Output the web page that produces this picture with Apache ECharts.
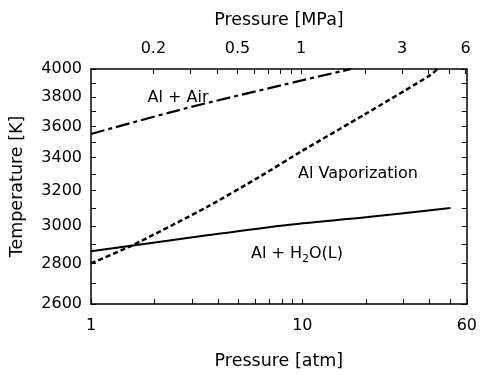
<!DOCTYPE html>
<html><head><meta charset="utf-8">
<script src="https://cdn.jsdelivr.net/npm/echarts@6/dist/echarts.min.js"></script>
<style>html,body{margin:0;padding:0;background:#fff}#c{width:480px;height:375px}</style>
</head><body><div id="c"></div>
<script>
// Data (pressure in atm, temperature in K)
const airP = [1, 2.76, 8.14, 17.0];
const airT = [3551, 3719, 3886, 4000];
const vapP = [1, 1.575, 3.54, 6.22, 9.93, 19.7, 40.5, 43.5];
const vapT = [2801, 2896, 3106, 3280, 3441, 3680, 3957, 4000];
const h2oP = [1, 3.54, 8.14, 20.4, 50.2];
const h2oT = [2864, 2949, 3003, 3049, 3100];

// Tick values
const atmTicks = [1,2,3,4,5,6,7,8,9,10,20,30,40,50,60];
const atmLabels = [1,10,60];
const mpaTicks = [0.2,0.3,0.4,0.5,0.6,0.7,0.8,0.9,1,2,3,4,5,6];
const mpaLabels = [0.2,0.5,1,3,6];
const tempTicks = [2600,2700,2800,2900,3000,3100,3200,3300,3400,3500,3600,3700,3800,3900,4000];
const tempLabels = [2600,2800,3000,3200,3400,3600,3800,4000];
const pRange = [1, 60];
const tRange = [2600, 4000];
const ATM_TO_MPA = 0.101325;

const L = Math.log10;
const fmt = v => String(parseFloat(Math.pow(10, v).toPrecision(3)));
const pairs = (xs, ys) => xs.map((x, i) => [L(x), L(ys[i])]);
const FONT = 'DejaVu Sans';
const lab = {fontFamily: FONT, fontSize: 16, color: '#000'};
const nameSty = {fontFamily: FONT, fontSize: 17.5, color: '#000'};
const axLine = {show: true, onZero: false, lineStyle: {color: '#000', width: 1.5}};

const chart = echarts.init(document.getElementById('c'), null, {renderer: 'canvas'});
chart.setOption({
  animation: false,
  backgroundColor: '#fff',
  grid: {left: 91, right: 10, top: 69, bottom: 69, containLabel: false},
  xAxis: [{
    type: 'value', position: 'bottom', min: L(pRange[0]), max: L(pRange[1]),
    name: 'Pressure [atm]', nameLocation: 'middle', nameGap: 48, nameTextStyle: nameSty,
    axisLine: axLine, splitLine: {show: false},
    axisTick: {inside: true, length: 5, lineStyle: {color: '#000', width: 1}, customValues: atmTicks.map(L)},
    axisLabel: Object.assign({margin: 14, formatter: fmt, customValues: atmLabels.map(L)}, lab)
  }, {
    type: 'value', position: 'top', min: L(pRange[0] * ATM_TO_MPA), max: L(pRange[1] * ATM_TO_MPA),
    name: 'Pressure [MPa]', nameLocation: 'middle', nameGap: 40, nameTextStyle: nameSty,
    axisLine: axLine, splitLine: {show: false},
    axisTick: {inside: true, length: 5, lineStyle: {color: '#000', width: 1}, customValues: mpaTicks.map(L)},
    axisLabel: Object.assign({margin: 12, formatter: fmt, customValues: mpaLabels.map(L)}, lab)
  }],
  yAxis: [{
    type: 'value', position: 'left', min: L(tRange[0]), max: L(tRange[1]),
    name: 'Temperature [K]', nameLocation: 'middle', nameGap: 65, nameTextStyle: nameSty,
    axisLine: axLine, splitLine: {show: false},
    axisTick: {inside: true, length: 5, lineStyle: {color: '#000', width: 1}, customValues: tempTicks.map(L)},
    axisLabel: Object.assign({margin: 9, formatter: fmt, customValues: tempLabels.map(L)}, lab)
  }, {
    type: 'value', position: 'right', min: L(tRange[0]), max: L(tRange[1]),
    axisLine: axLine, splitLine: {show: false},
    axisTick: {inside: true, length: 5, lineStyle: {color: '#000', width: 1}, customValues: tempTicks.map(L)},
    axisLabel: {show: false}
  }],
  series: [{
    name: 'Al + Air', type: 'line', showSymbol: false, smooth: 0.3,
    data: pairs(airP, airT),
    lineStyle: {color: '#000', width: 2.2, type: [14, 4, 4, 4]}
  }, {
    name: 'Al Vaporization', type: 'line', showSymbol: false, smooth: 0.2,
    data: pairs(vapP, vapT),
    lineStyle: {color: '#000', width: 2.5, type: [5, 3]}
  }, {
    name: 'Al + H2O(L)', type: 'line', showSymbol: false, smooth: 0.3,
    data: pairs(h2oP, h2oT),
    lineStyle: {color: '#000', width: 2, type: 'solid'}
  }],
  graphic: [{
    type: 'text', x: 178, y: 97.5,
    style: {text: 'Al + Air', font: '16px "DejaVu Sans"', fill: '#000', textAlign: 'center', textVerticalAlign: 'middle'}
  }, {
    type: 'text', x: 358, y: 173.5,
    style: {text: 'Al Vaporization', font: '16px "DejaVu Sans"', fill: '#000', textAlign: 'center', textVerticalAlign: 'middle'}
  }, {
    type: 'text', x: 251, y: 254,
    style: {
      text: '{a|Al + H}{s|2}{a|O(L)}', fill: '#000', textAlign: 'left', textVerticalAlign: 'middle',
      rich: {
        a: {fontFamily: FONT, fontSize: 16, lineHeight: 22, fill: '#000'},
        s: {fontFamily: FONT, fontSize: 11, lineHeight: 11, verticalAlign: 'bottom', fill: '#000'}
      }
    }
  }]
});
</script>
</body></html>
